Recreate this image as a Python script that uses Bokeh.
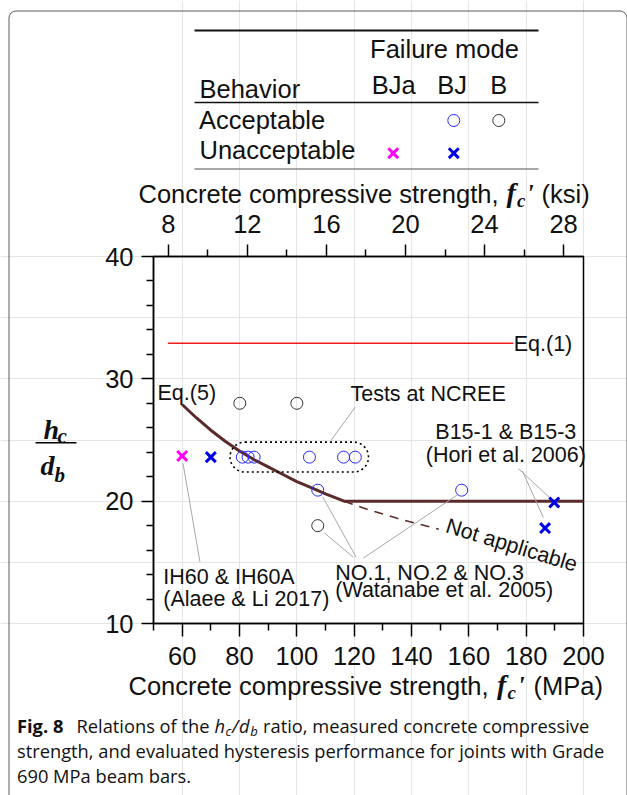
from bokeh.plotting import figure
from bokeh.models import Range1d, LinearAxis, FixedTicker, Label, Grid
from bokeh.embed import file_html
from bokeh.resources import INLINE
from bokeh.core.properties import value

# ---------------- data ----------------
mpa_ticks = [60, 80, 100, 120, 140, 160, 180, 200]
mpa_minor = [50, 70, 90, 110, 130, 150, 170, 190]
ksi_ticks = [8, 12, 16, 20, 24, 28]
ksi_minor = [10, 14, 18, 22, 26]
ratio_ticks = [10, 20, 30, 40]
ratio_minor = [12, 14, 16, 18, 22, 24, 26, 28, 32, 34, 36, 38]
grid_ticks = [20, 30]
MPA_PER_KSI = 6.895
FC_MIN, FC_MAX = 50, 200
R_MIN, R_MAX = 10, 40

eq1_fc = [55.0, 175.5]
eq1_ratio = [32.9, 32.9]

eq5_fc = [60, 65, 70, 75, 80, 85, 90, 95, 100, 105, 110, 116.5, 200]
eq5_ratio = [27.9, 26.8, 25.8, 24.9, 24.1, 23.4, 22.8, 22.2, 21.6, 21.1, 20.6, 20.0, 20.0]

na_fc = [116.5, 125, 135, 149.5]
na_ratio = [20.0, 19.3, 18.6, 17.7]

bja_unacc_fc = [60.0]
bja_unacc_ratio = [23.7]
bj_unacc_fc = [70.0, 186.6, 189.8]
bj_unacc_ratio = [23.6, 17.8, 19.9]
bj_acc_fc = [81.0, 83.0, 85.1, 104.4, 116.3, 120.4, 107.3, 157.5]
bj_acc_ratio = [23.6, 23.6, 23.6, 23.6, 23.6, 23.6, 20.9, 20.9]
b_acc_fc = [80.1, 100.0, 107.3]
b_acc_ratio = [28.0, 28.0, 18.0]

SANS = "Liberation Sans"
SERIF = "Liberation Serif"
CAP = "Open Sans"
INK = "#111111"
BLUE = "#2a2aff"
XBLUE = "#0000e6"
MAG = "#ff00ff"
BROWN = "#5b2b2b"
FRAME = "#5a5a5a"

W, H = 627, 795
FL, FR, FT, FB = 153.0, 583.0, 256.0, 623.0   # plot box in page pixels


def X(px):
    return FC_MIN + (px - FL) * (FC_MAX - FC_MIN) / (FR - FL)


def Y(py):
    return R_MAX - (py - FT) * (R_MAX - R_MIN) / (FB - FT)


p = figure(width=W, height=H, x_range=Range1d(X(0), X(W)), y_range=Range1d(Y(H), Y(0)),
           output_backend="svg", toolbar_location=None,
           x_axis_location=None, y_axis_location=None, min_border=0)
p.outline_line_color = None
p.background_fill_color = "white"
p.extra_x_ranges = {"ksi": Range1d(X(0) / MPA_PER_KSI, X(W) / MPA_PER_KSI)}

bottom_axis = LinearAxis(fixed_location=R_MIN, bounds=(FC_MIN, FC_MAX),
                         ticker=FixedTicker(ticks=mpa_ticks, minor_ticks=mpa_minor))
left_axis = LinearAxis(fixed_location=FC_MIN, bounds=(R_MIN, R_MAX),
                       ticker=FixedTicker(ticks=ratio_ticks, minor_ticks=ratio_minor))
top_axis = LinearAxis(x_range_name="ksi", fixed_location=R_MAX,
                      bounds=(FC_MIN / MPA_PER_KSI, FC_MAX / MPA_PER_KSI),
                      ticker=FixedTicker(ticks=ksi_ticks, minor_ticks=ksi_minor))
p.add_layout(bottom_axis, "below")
p.add_layout(left_axis, "left")
p.add_layout(top_axis, "above")

for ax in [bottom_axis, left_axis, top_axis]:
    ax.axis_line_color = "black"
    ax.axis_line_width = 1.5
    ax.major_tick_line_color = "black"
    ax.minor_tick_line_color = "black"
    ax.major_tick_line_width = 1.5
    ax.minor_tick_line_width = 1.5
    ax.major_tick_in = 0
    ax.minor_tick_in = 0
    ax.minor_tick_out = 7
    ax.major_label_text_font = SANS
    ax.major_label_text_font_size = "25.5px"
    ax.major_label_text_color = INK

bottom_axis.major_tick_out = 13
bottom_axis.major_label_standoff = 10
top_axis.major_tick_out = 12
top_axis.major_label_standoff = 12
left_axis.major_tick_out = 12
left_axis.major_label_standoff = 8

grid = Grid(dimension=1, ticker=FixedTicker(ticks=grid_ticks), bounds=(FC_MIN, FC_MAX),
            grid_line_color="#d6d6d6", grid_line_width=1)
p.renderers.append(grid)

# plot box border
p.quad(left=[FC_MIN], right=[FC_MAX], bottom=[R_MIN], top=[R_MAX], fill_color=None,
       line_color="black", line_width=1.5)

# curves
p.line(eq1_fc, eq1_ratio, line_color="#ee1c1c", line_width=1.5)
p.line(na_fc, na_ratio, line_color=BROWN, line_width=1.6, line_dash="9 7")
p.line(eq5_fc, eq5_ratio, line_color=BROWN, line_width=3)

# dotted enclosure around NCREE tests
p.quad(left=76.7, right=125.0, bottom=22.38, top=24.83, fill_color=None,
       line_color="black", line_width=1.6, line_dash="2 3", border_radius=15)

# leader lines
p.segment(x0=[60.3, 120.35, 177.3, 178.6, 119.65, 120.7, 123.15],
          y0=[23.1, 27.68, 22.66, 22.5, 15.42, 15.42, 15.34],
          x1=[66.2, 111.95, 188.9, 186.0, 109.6, 109.05, 156.3],
          y1=[15.04, 24.97, 20.13, 18.66, 17.41, 20.34, 20.56],
          line_color="#a8a8a8", line_width=1)

# markers
p.scatter(b_acc_fc, b_acc_ratio, marker="circle", size=12, fill_color=None,
          line_color="#333333", line_width=1)
p.scatter(bj_acc_fc, bj_acc_ratio, marker="circle", size=12, fill_color=None,
          line_color=BLUE, line_width=1)
p.scatter(bja_unacc_fc, bja_unacc_ratio, marker="x", size=14, line_color=MAG, line_width=3)
p.scatter(bj_unacc_fc, bj_unacc_ratio, marker="x", size=14, line_color=XBLUE, line_width=3)


# in-plot annotations (data units)
def dlabel(x, y, s, align="left", angle=0):
    p.add_layout(Label(x=x, y=y, text=s, text_font=SANS, text_font_size="21.5px",
                       text_align=align, text_baseline="middle", text_color=INK,
                       angle=angle, angle_units="deg"))


dlabel(51.4, 28.83, "Eq.(5)")
dlabel(175.65, 32.85, "Eq.(1)")
dlabel(118.7, 28.72, "Tests at NCREE")
dlabel(172.9, 25.64, "B15-1 & B15-3", "center")
dlabel(172.9, 23.74, "(Hori et al. 2006)", "center")
dlabel(174.95, 16.4, "Not applicable", "center", -17)
dlabel(113.4, 14.09, "NO.1, NO.2 & NO.3")
dlabel(113.4, 12.73, "(Watanabe et al. 2005)")
dlabel(53.4, 13.82, "IH60 & IH60A")
dlabel(53.4, 11.97, "(Alaee & Li 2017)")


# texts placed by page pixels (baseline given), drawn through the figure's scales
def plabel(px, base, s, font=SANS, size=25.5, style="normal", align="left", color=INK):
    p.add_layout(Label(x=X(px), y=Y(base - 0.35 * size), text=s, text_font=font,
                       text_font_size=f"{size}px", text_font_style=style,
                       text_align=align, text_baseline="middle", text_color=color))


# outer rounded frame of the figure panel
p.quad(left=[X(8.5)], right=[X(626.5)], top=[Y(10.5)], bottom=[Y(H + 40)],
       fill_color=None, line_color=FRAME, line_width=1, border_radius=7)

# legend table
p.segment(x0=[X(194)] * 3, x1=[X(538)] * 3, y0=[Y(30), Y(102), Y(168.5)],
          y1=[Y(30), Y(102), Y(168.5)],
          line_color=["#111111", "#111111", "#8a8a8a"], line_width=[2, 1.5, 1.5])
plabel(444, 57.3, "Failure mode", align="center")
plabel(199, 97.3, "Behavior")
plabel(393.3, 93.0, "BJa", align="center")
plabel(451.7, 93.0, "BJ", align="center")
plabel(498.3, 93.0, "B", align="center")
plabel(198.5, 128.3, "Acceptable")
plabel(199, 158.0, "Unacceptable")
p.scatter([X(453.3)], [Y(120)], marker="circle", size=12, fill_color=None, line_color=BLUE, line_width=1)
p.scatter([X(498.3)], [Y(120)], marker="circle", size=12, fill_color=None, line_color="#333333", line_width=1)
p.scatter([X(392.7)], [Y(152.7)], marker="x", size=14, line_color=MAG, line_width=3)
p.scatter([X(453.3)], [Y(152.7)], marker="x", size=14, line_color=XBLUE, line_width=3)

# top axis title
plabel(138, 202, "Concrete compressive strength,")
plabel(506, 202, "f", SERIF, 28, "bold italic")
plabel(516.5, 207, "c", SERIF, 19, "bold italic")
plabel(526, 202, "'", SERIF, 26, "bold italic")
plabel(541, 202, "(ksi)")

# bottom axis title
plabel(128, 694, "Concrete compressive strength,")
plabel(496.5, 694, "f", SERIF, 28, "bold italic")
plabel(507, 699, "c", SERIF, 19, "bold italic")
plabel(517, 694, "'", SERIF, 26, "bold italic")
plabel(533, 694, "(MPa)")

# y axis title as a fraction
plabel(43, 439, "h", SERIF, 28, "bold italic")
plabel(57, 443, "c", SERIF, 21, "bold italic")
plabel(40, 475, "d", SERIF, 28, "bold italic")
plabel(54, 482, "b", SERIF, 21, "bold italic")
p.segment(x0=[X(35)], x1=[X(76)], y0=[Y(442.3)], y1=[Y(442.3)], line_color="black", line_width=1.5)

# caption
CS = 18.3
plabel(16.5, 731, "Fig. 8", CAP, CS, "bold")
plabel(76, 731, "Relations of the", CAP, CS)
plabel(214, 731, "h", CAP, CS, "italic")
plabel(225, 735, "c", CAP, 13, "italic")
plabel(231.5, 731, "/", CAP, CS, "italic")
plabel(238.5, 731, "d", CAP, CS, "italic")
plabel(249.7, 735, "b", CAP, 13, "italic")
plabel(262.5, 731, "ratio, measured concrete compressive", CAP, CS)
plabel(16.5, 756, "strength, and evaluated hysteresis performance for joints with Grade", CAP, CS)
plabel(16.5, 781.5, "690 MPa beam bars.", CAP, CS)

open("out.html", "w").write(file_html(p, INLINE))
